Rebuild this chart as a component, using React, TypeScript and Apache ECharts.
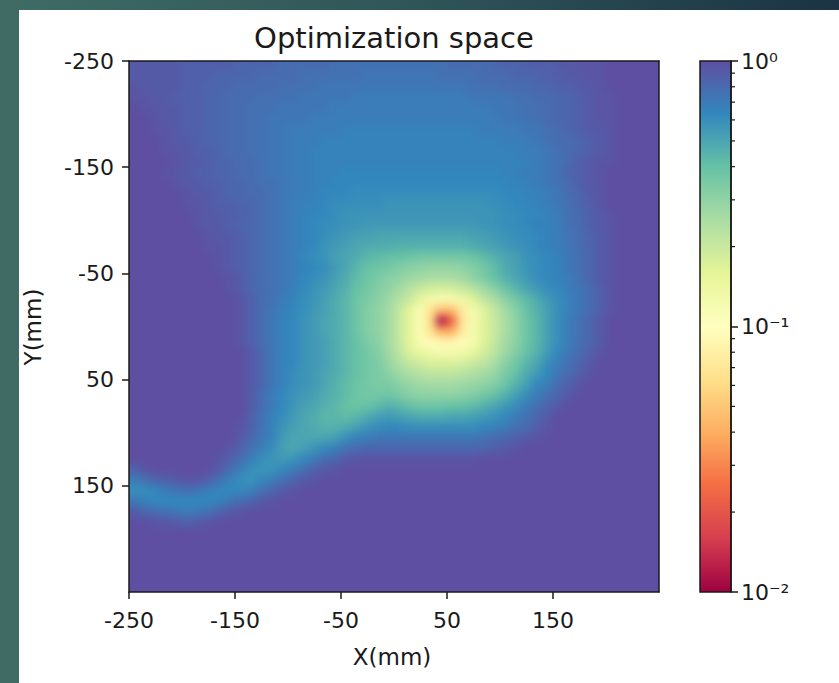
import React, { useEffect, useRef } from "react";
import * as echarts from "echarts";

// Cell centres (mm) of the sampled optimisation grid, 10 mm cells
const xCellCenters = [-245,-235,-225,-215,-205,-195,-185,-175,-165,-155,-145,-135,-125,-115,-105,-95,-85,-75,-65,-55,-45,-35,-25,-15,-5,5,15,25,35,45,55,65,75,85,95,105,115,125,135,145,155,165,175,185,195,205,215,225,235,245];
const yCellCenters = [-245,-235,-225,-215,-205,-195,-185,-175,-165,-155,-145,-135,-125,-115,-105,-95,-85,-75,-65,-55,-45,-35,-25,-15,-5,5,15,25,35,45,55,65,75,85,95,105,115,125,135,145,155,165,175,185,195,205,215,225,235,245];
const cellSize = 10;

const xTickValues = [-250, -150, -50, 50, 150];
const yTickValues = [-250, -150, -50, 50, 150];
const colorbarMinorTicks = [0.02, 0.03, 0.04, 0.05, 0.06, 0.07, 0.08, 0.09, 0.2, 0.3, 0.4, 0.5, 0.6, 0.7, 0.8, 0.9];

// Cost level: 0 -> 1e-2, 50 -> 1e-1, 100 -> 1e0 (log10 colour scale)
const costLevelRows = [
[98,98,98,98,98,97,97,97,97,97,96,96,96,96,95,95,95,95,95,94,94,94,94,94,94,94,94,94,94,94,95,95,95,95,96,96,96,97,97,97,98,98,99,99,99,100,100,100,100,100],
[98,98,98,98,98,97,97,97,96,96,96,96,95,95,95,95,94,94,94,94,94,94,93,93,93,93,93,93,93,94,94,94,94,95,95,95,96,96,96,97,97,98,98,99,99,100,100,100,100,100],
[99,98,98,98,98,97,97,96,96,96,95,95,95,95,94,94,94,94,93,93,93,93,93,93,93,93,93,93,93,93,93,93,94,94,94,95,95,95,96,96,97,97,98,98,99,100,100,100,100,100],
[99,99,98,98,97,97,97,96,96,95,95,95,94,94,94,94,93,93,93,93,93,92,92,92,92,92,92,92,92,92,92,92,93,93,93,93,94,94,95,95,96,96,97,98,99,99,100,100,100,100],
[100,99,99,98,98,97,97,96,96,95,95,94,94,94,93,93,93,93,93,92,92,92,92,92,92,92,92,92,92,92,92,92,92,92,93,93,93,94,94,95,96,96,97,98,99,99,100,100,100,100],
[100,100,99,98,98,97,97,96,96,95,95,94,94,93,93,93,93,92,92,92,92,92,92,92,92,92,92,92,92,92,92,92,92,92,92,93,93,94,94,95,96,96,97,98,99,99,100,100,100,100],
[100,100,99,99,98,97,97,96,96,95,95,94,94,93,93,92,92,92,92,92,91,91,91,91,91,91,91,91,91,91,91,91,91,92,92,92,92,93,93,94,95,96,97,98,98,99,100,100,100,100],
[100,100,100,99,98,98,97,96,96,95,95,94,94,93,93,92,92,92,91,91,91,91,91,91,91,91,91,91,91,91,91,91,91,91,91,92,92,92,93,94,95,95,96,97,98,99,100,100,100,100],
[100,100,100,99,99,98,97,97,96,95,95,94,94,93,93,92,92,91,91,91,91,91,91,91,91,91,91,91,91,91,91,91,91,91,91,91,91,92,92,93,94,95,96,97,98,99,100,100,100,100],
[100,100,100,100,99,98,98,97,96,96,95,95,94,93,93,92,92,91,91,91,91,91,91,91,91,91,91,91,91,91,91,91,91,91,91,91,91,91,92,93,94,95,97,98,99,99,100,100,100,100],
[100,100,100,99,99,98,97,97,96,96,95,95,94,93,93,92,92,91,91,91,90,90,90,90,90,90,90,90,90,90,90,90,90,90,90,91,91,92,92,93,94,96,97,98,99,100,100,100,100,100],
[100,100,100,100,99,98,98,97,97,96,96,95,94,94,93,92,92,91,91,90,90,90,90,90,90,90,90,90,90,90,90,90,90,90,90,90,91,91,92,93,94,95,97,98,99,100,100,100,100,100],
[100,100,100,100,100,99,98,98,97,96,96,95,95,94,93,92,92,91,90,90,90,89,89,89,89,89,89,89,89,89,89,89,89,89,89,90,90,91,91,92,93,95,96,98,99,100,100,100,100,100],
[100,100,100,100,100,99,99,98,97,97,96,96,95,94,93,92,91,91,90,89,89,89,89,89,88,88,88,88,88,88,88,88,88,88,89,89,90,90,91,92,93,94,96,97,99,100,100,100,100,100],
[100,100,100,100,100,100,99,98,98,97,97,96,95,94,93,92,91,90,90,89,88,88,88,88,88,88,88,88,88,88,88,88,88,88,88,89,89,90,90,91,92,94,95,97,98,99,100,100,100,100],
[100,100,100,100,100,100,99,98,98,97,96,96,95,94,93,92,91,90,89,89,88,88,87,87,87,87,87,87,87,87,87,87,87,88,88,89,89,90,91,91,92,94,95,97,98,99,100,100,100,100],
[100,100,100,100,100,100,100,99,98,98,97,96,95,94,93,92,91,90,89,88,87,86,86,85,85,85,85,85,85,85,85,85,86,86,87,88,89,89,90,91,92,93,95,96,98,99,100,100,100,100],
[100,100,100,100,100,100,100,99,99,98,97,96,95,94,93,92,91,90,88,87,86,85,84,84,84,83,83,83,83,83,83,83,84,85,86,87,88,89,90,91,92,93,95,96,98,99,100,100,100,100],
[100,100,100,100,100,100,100,100,99,98,97,96,95,94,93,92,90,89,88,86,85,84,82,81,80,80,79,78,78,78,78,78,79,81,83,85,86,88,89,90,91,93,94,96,98,99,100,100,100,100],
[100,100,100,100,100,100,100,100,99,98,97,96,95,94,93,92,91,90,89,87,85,82,80,79,78,76,75,74,73,73,73,74,76,78,81,84,86,88,89,90,91,93,94,96,98,99,100,100,100,100],
[100,100,100,100,100,100,100,100,100,99,98,96,95,94,93,92,90,89,88,86,84,81,79,77,75,74,72,71,70,70,70,71,74,77,80,83,85,87,89,90,91,92,94,96,98,99,100,100,100,100],
[100,100,100,100,100,100,100,100,100,99,98,96,95,94,93,91,90,88,87,85,83,80,78,76,74,71,68,65,63,62,63,65,68,71,75,79,82,85,87,89,90,92,93,95,97,99,100,100,100,100],
[100,100,100,100,100,100,100,100,100,100,99,97,95,94,92,91,89,88,86,84,82,79,77,75,72,69,65,60,55,53,53,56,61,66,70,74,78,81,84,87,89,91,93,95,97,99,100,100,100,100],
[100,100,100,100,100,100,100,100,100,100,99,97,95,93,92,90,89,87,86,84,82,79,76,74,71,66,60,52,41,33,33,44,54,61,66,71,75,80,83,86,89,91,93,95,97,99,100,100,100,100],
[100,100,100,100,100,100,100,100,100,100,99,97,95,93,91,90,88,87,85,84,82,79,76,74,71,66,60,52,40,3,18,43,54,61,65,70,74,79,82,86,89,92,94,96,98,100,100,100,100,100],
[100,100,100,100,100,100,100,100,100,100,99,97,95,93,91,90,88,87,85,84,82,79,76,74,71,66,60,52,41,30,30,44,54,61,65,70,74,79,82,86,89,92,94,96,98,100,100,100,100,100],
[100,100,100,100,100,100,100,100,100,100,99,97,95,93,91,90,88,87,86,84,82,80,77,75,71,66,60,53,49,48,48,49,54,61,66,71,74,79,82,86,89,92,94,96,98,100,100,100,100,100],
[100,100,100,100,100,100,100,100,100,100,100,98,96,93,91,90,88,87,86,84,82,80,78,76,72,67,62,58,56,55,55,56,59,63,67,72,76,80,83,87,90,93,95,97,99,100,100,100,100,100],
[100,100,100,100,100,100,100,100,100,100,100,98,96,93,91,90,88,87,86,84,82,80,78,77,73,69,66,64,62,62,62,63,65,67,70,75,78,82,85,89,92,94,96,98,100,100,100,100,100,100],
[100,100,100,100,100,100,100,100,100,100,100,98,96,93,91,89,88,87,85,84,82,80,78,77,75,72,70,68,67,67,67,68,69,71,73,77,80,84,87,90,93,95,97,99,100,100,100,100,100,100],
[100,100,100,100,100,100,100,100,100,100,100,98,96,93,91,89,88,87,85,83,81,79,78,77,77,75,73,72,71,71,71,72,73,74,76,79,83,86,90,92,95,97,99,100,100,100,100,100,100,100],
[100,100,100,100,100,100,100,100,100,100,100,98,95,92,90,88,87,86,84,83,81,79,78,78,79,77,75,74,74,74,74,75,76,78,80,83,86,89,92,94,96,98,100,100,100,100,100,100,100,100],
[100,100,100,100,100,100,100,100,100,100,100,98,95,92,90,88,86,85,83,82,80,79,80,81,83,82,80,79,79,79,80,80,81,83,85,87,89,92,94,96,98,100,100,100,100,100,100,100,100,100],
[100,100,100,100,100,100,100,100,100,100,100,97,94,91,89,87,85,84,82,82,81,82,84,86,87,86,85,84,84,84,85,85,86,87,88,90,92,94,96,98,100,100,100,100,100,100,100,100,100,100],
[100,100,100,100,100,100,100,100,100,100,99,97,94,91,88,86,85,84,83,83,84,86,88,89,90,90,89,89,89,89,89,89,89,90,91,92,94,95,97,99,100,100,100,100,100,100,100,100,100,100],
[100,100,100,100,100,100,100,100,100,100,98,96,93,91,87,85,85,85,85,86,89,91,92,93,93,93,93,93,93,93,93,93,93,94,95,96,97,98,99,100,100,100,100,100,100,100,100,100,100,100],
[100,100,100,100,100,100,100,100,100,99,97,94,92,89,86,85,86,88,90,91,94,95,96,96,96,96,96,96,96,96,96,96,96,96,97,98,99,100,100,100,100,100,100,100,100,100,100,100,100,100],
[100,100,100,100,100,100,100,100,99,97,95,92,89,88,87,88,90,92,95,96,98,99,99,99,99,99,99,99,99,99,99,99,99,100,100,100,100,100,100,100,100,100,100,100,100,100,100,100,100,100],
[97,99,100,100,100,100,100,100,98,95,92,89,88,88,90,92,94,97,98,99,100,100,100,100,100,100,100,100,100,100,100,100,100,100,100,100,100,100,100,100,100,100,100,100,100,100,100,100,100,100],
[92,94,96,97,98,99,99,97,94,91,89,88,90,92,94,96,98,99,100,100,100,100,100,100,100,100,100,100,100,100,100,100,100,100,100,100,100,100,100,100,100,100,100,100,100,100,100,100,100,100],
[89,89,90,92,93,94,93,92,90,90,90,91,94,96,98,99,100,100,100,100,100,100,100,100,100,100,100,100,100,100,100,100,100,100,100,100,100,100,100,100,100,100,100,100,100,100,100,100,100,100],
[93,91,90,90,90,90,90,90,91,93,95,96,98,99,100,100,100,100,100,100,100,100,100,100,100,100,100,100,100,100,100,100,100,100,100,100,100,100,100,100,100,100,100,100,100,100,100,100,100,100],
[98,96,95,94,93,92,93,94,96,98,99,100,100,100,100,100,100,100,100,100,100,100,100,100,100,100,100,100,100,100,100,100,100,100,100,100,100,100,100,100,100,100,100,100,100,100,100,100,100,100],
[100,100,99,99,98,97,98,99,100,100,100,100,100,100,100,100,100,100,100,100,100,100,100,100,100,100,100,100,100,100,100,100,100,100,100,100,100,100,100,100,100,100,100,100,100,100,100,100,100,100],
[100,100,100,100,100,100,100,100,100,100,100,100,100,100,100,100,100,100,100,100,100,100,100,100,100,100,100,100,100,100,100,100,100,100,100,100,100,100,100,100,100,100,100,100,100,100,100,100,100,100],
[100,100,100,100,100,100,100,100,100,100,100,100,100,100,100,100,100,100,100,100,100,100,100,100,100,100,100,100,100,100,100,100,100,100,100,100,100,100,100,100,100,100,100,100,100,100,100,100,100,100],
[100,100,100,100,100,100,100,100,100,100,100,100,100,100,100,100,100,100,100,100,100,100,100,100,100,100,100,100,100,100,100,100,100,100,100,100,100,100,100,100,100,100,100,100,100,100,100,100,100,100],
[100,100,100,100,100,100,100,100,100,100,100,100,100,100,100,100,100,100,100,100,100,100,100,100,100,100,100,100,100,100,100,100,100,100,100,100,100,100,100,100,100,100,100,100,100,100,100,100,100,100],
[100,100,100,100,100,100,100,100,100,100,100,100,100,100,100,100,100,100,100,100,100,100,100,100,100,100,100,100,100,100,100,100,100,100,100,100,100,100,100,100,100,100,100,100,100,100,100,100,100,100],
[100,100,100,100,100,100,100,100,100,100,100,100,100,100,100,100,100,100,100,100,100,100,100,100,100,100,100,100,100,100,100,100,100,100,100,100,100,100,100,100,100,100,100,100,100,100,100,100,100,100],
];

const spectral = ["#9e0142","#d53e4f","#f46d43","#fdae61","#fee08b","#ffffbf","#e6f598","#abdda4","#66c2a5","#3288bd","#5e4fa2"];
const supDigits = ["\u2070", "\u00b9", "\u00b2"];
const FONT = "DejaVu Sans";
const INK = "#1a1a1a";

// plot-area layout (pixels)
const PLOT = { left: 129, top: 61, width: 530, height: 531 };
const PAD = 24; // off-plot margin of the smoothed heat layer

function buildHeatOption() {
  const heatData: number[][] = [];
  costLevelRows.forEach((row, j) => {
    row.forEach((lv, i) => heatData.push([xCellCenters[i], yCellCenters[j], lv]));
  });
  const half = cellSize / 2;
  const xFirst = xCellCenters[0], xLast = xCellCenters[xCellCenters.length - 1];
  const yFirst = yCellCenters[0], yLast = yCellCenters[yCellCenters.length - 1];
  return {
    animation: false,
    backgroundColor: "transparent",
    grid: { left: PAD, top: PAD, width: PLOT.width, height: PLOT.height },
    xAxis: { type: "value", min: -250, max: 250, show: false },
    yAxis: { type: "value", min: -250, max: 250, inverse: true, show: false },
    visualMap: {
      type: "continuous", show: false, min: 0, max: 100, dimension: 2, seriesIndex: 0,
      inRange: { color: spectral },
    },
    series: [
      {
        type: "custom", name: "cost", clip: false, silent: true,
        data: heatData,
        renderItem: (params: any, api: any) => {
          const x = api.value(0);
          const y = api.value(1);
          const a = api.coord([x - half, y - half]);
          const b = api.coord([x + half, y + half]);
          let x0 = Math.min(a[0], b[0]) - 0.5;
          let y0 = Math.min(a[1], b[1]) - 0.5;
          let x1 = Math.max(a[0], b[0]) + 0.5;
          let y1 = Math.max(a[1], b[1]) + 0.5;
          if (x === xFirst) x0 -= PAD;
          if (x === xLast) x1 += PAD;
          if (y === yFirst) y0 -= PAD;
          if (y === yLast) y1 += PAD;
          return {
            type: "rect",
            shape: { x: x0, y: y0, width: x1 - x0, height: y1 - y0 },
            style: { fill: api.visual("color") },
          };
        },
      },
    ],
  };
}

function buildMainOption() {
  const lineStyle = { color: INK, width: 1.5 };
  const tickFont = { fontSize: 22, fontFamily: FONT, color: INK };
  return {
    animation: false,
    backgroundColor: "transparent",
    grid: [
      { left: PLOT.left, top: PLOT.top, width: PLOT.width, height: PLOT.height },
      { left: 700, top: 61, width: 31, height: 531 },
    ],
    xAxis: [
      {
        gridIndex: 0, type: "value", min: -250, max: 250, position: "bottom", z: 5,
        axisLine: { show: true, onZero: false, lineStyle },
        axisTick: { show: true, customValues: xTickValues, length: 7, lineStyle },
        axisLabel: { show: true, customValues: xTickValues, margin: 17, ...tickFont },
        splitLine: { show: false },
      },
      {
        gridIndex: 0, type: "value", min: -250, max: 250, position: "top", z: 5,
        axisLine: { show: true, onZero: false, lineStyle },
        axisTick: { show: false }, axisLabel: { show: false }, splitLine: { show: false },
      },
      { gridIndex: 1, type: "value", min: 0, max: 1, show: false },
    ],
    yAxis: [
      {
        gridIndex: 0, type: "value", min: -250, max: 250, inverse: true, position: "left", z: 5,
        axisLine: { show: true, onZero: false, lineStyle },
        axisTick: { show: true, customValues: yTickValues, length: 7, lineStyle },
        axisLabel: { show: true, customValues: yTickValues, margin: 15, ...tickFont },
        splitLine: { show: false },
      },
      {
        gridIndex: 0, type: "value", min: -250, max: 250, inverse: true, position: "right", z: 5,
        axisLine: { show: true, onZero: false, lineStyle },
        axisTick: { show: false }, axisLabel: { show: false }, splitLine: { show: false },
      },
      {
        gridIndex: 1, type: "log", logBase: 10, min: 0.01, max: 1, position: "right", z: 5,
        axisLine: { show: true, onZero: false, lineStyle },
        axisTick: { show: true, length: 7, lineStyle },
        axisLabel: {
          show: true, margin: 10, ...tickFont,
          formatter: (v: number) => {
            const e = Math.round(Math.log10(v));
            return "10" + (e < 0 ? "\u207b" : "") + supDigits[Math.abs(e)];
          },
        },
        splitLine: { show: false },
      },
    ],
    series: [
      {
        type: "custom", name: "colorbar", xAxisIndex: 2, yAxisIndex: 2, silent: true,
        data: [[0.5, 0.1]],
        renderItem: (params: any, api: any) => {
          const tl = api.coord([0, 1]);
          const br = api.coord([1, 0.01]);
          return {
            type: "rect",
            shape: { x: tl[0], y: tl[1], width: br[0] - tl[0], height: br[1] - tl[1] },
            style: {
              fill: new echarts.graphic.LinearGradient(0, 1, 0, 0,
                spectral.map((c, k) => ({ offset: k / (spectral.length - 1), color: c }))),
              stroke: INK, lineWidth: 1.5,
            },
          };
        },
      },
      {
        type: "custom", name: "minorTicks", xAxisIndex: 2, yAxisIndex: 2, silent: true,
        data: colorbarMinorTicks.map((v) => [1, v]),
        renderItem: (params: any, api: any) => {
          const p = api.coord([api.value(0), api.value(1)]);
          return {
            type: "line",
            shape: { x1: p[0], y1: p[1], x2: p[0] + 4, y2: p[1] },
            style: { stroke: INK, lineWidth: 1.2 },
          };
        },
      },
    ],
    graphic: [
      {
        type: "rect", x: 0, y: 0, shape: { width: 839, height: 10 },
        style: { fill: new echarts.graphic.LinearGradient(0, 0, 1, 0, [
          { offset: 0, color: "#3f6c66" }, { offset: 0.5, color: "#2f5558" }, { offset: 1, color: "#1b3344" },
        ]) },
      },
      { type: "rect", x: 0, y: 0, shape: { width: 19, height: 683 }, style: { fill: "#3f6b64" } },
      {
        type: "text", x: 394, y: 38,
        style: { text: "Optimization space", fontSize: 29, fontFamily: FONT, fill: INK, align: "center", verticalAlign: "middle" },
      },
      {
        type: "text", x: 392, y: 657,
        style: { text: "X(mm)", fontSize: 23, fontFamily: FONT, fill: INK, align: "center", verticalAlign: "middle" },
      },
      {
        type: "text", x: 33, y: 327, rotation: Math.PI / 2,
        style: { text: "Y(mm)", fontSize: 23, fontFamily: FONT, fill: INK, align: "center", verticalAlign: "middle" },
      },
    ],
  };
}

export default function App() {
  const heatRef = useRef<HTMLDivElement>(null);
  const mainRef = useRef<HTMLDivElement>(null);
  useEffect(() => {
    if (!heatRef.current || !mainRef.current) return;
    const heat = echarts.init(heatRef.current, null, { renderer: "svg" });
    heat.setOption(buildHeatOption() as any);
    const main = echarts.init(mainRef.current, null, { renderer: "svg" });
    main.setOption(buildMainOption() as any);
    return () => {
      heat.dispose();
      main.dispose();
    };
  }, []);
  return (
    <div style={{ position: "absolute", left: 0, top: 0, width: 839, height: 683, background: "#ffffff" }}>
      <div style={{ position: "absolute", left: PLOT.left, top: PLOT.top, width: PLOT.width, height: PLOT.height, overflow: "hidden" }}>
        <div
          ref={heatRef}
          style={{ position: "absolute", left: -PAD, top: -PAD, width: PLOT.width + 2 * PAD, height: PLOT.height + 2 * PAD, filter: "blur(4px)" }}
        />
      </div>
      <div ref={mainRef} style={{ position: "absolute", left: 0, top: 0, width: 839, height: 683 }} />
    </div>
  );
}
